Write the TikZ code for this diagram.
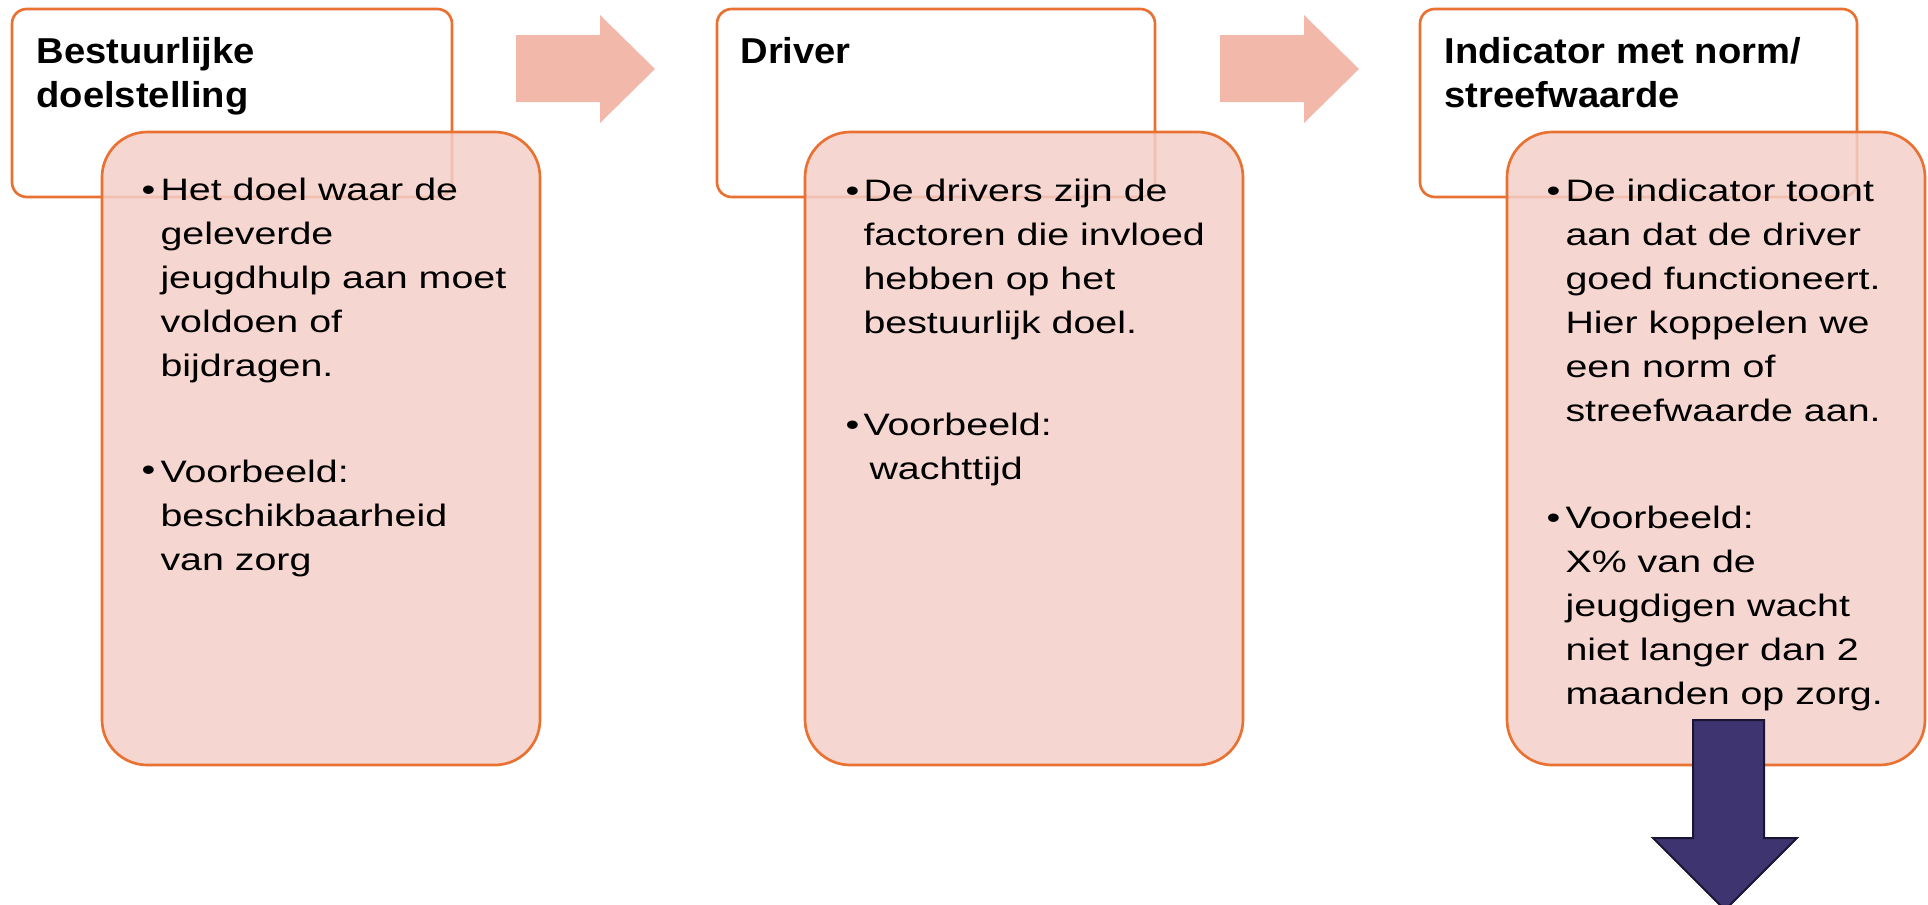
\documentclass[tikz,border=0pt]{standalone}
\usepackage{fontspec}
\setmainfont{Liberation Sans}
\newfontfamily\bodyfont{Liberation Sans}[FakeStretch=1.27]
\newfontfamily\headfont{Liberation Sans}[FakeStretch=1.06]

\definecolor{boxline}{HTML}{E97132}
\definecolor{boxfill}{RGB}{244,207,200}
\definecolor{arrowfill}{HTML}{F2B9AA}
\definecolor{downfill}{HTML}{3E3470}
\definecolor{downline}{HTML}{1B1533}

\tikzset{every picture/.style={line width=0.75pt}}
\tikzset{
  headbox/.style={draw=boxline, line width=2pt, fill=white, rounded corners=11pt},
  infobox/.style={draw=boxline, line width=2pt, fill=boxfill, fill opacity=0.85, rounded corners=34pt},
  headtext/.style={anchor=base west, inner sep=0pt, align=left, font=\headfont\bfseries\fontsize{27}{33}\selectfont},
  bodytext/.style={anchor=base west, inner sep=0pt, align=left, font=\bodyfont\fontsize{23.25}{33}\selectfont},
}

\begin{document}
\begin{tikzpicture}[x=0.75pt,y=0.75pt,yscale=-1,xscale=1]
\useasboundingbox (0,0) rectangle (1928,904);

%Shape: Rounded Rect [head 1]
\draw [headbox] (12,9) rectangle (452,197);
%Shape: Rounded Rect [info 1]
\draw [infobox] (102,132) rectangle (540,765);
%Shape: Right Arrow [1]
\fill [arrowfill] (516,35) -- (600,35) -- (600,15) -- (655,69) -- (600,123) -- (600,102) -- (516,102) -- cycle ;

%Shape: Rounded Rect [head 2]
\draw [headbox] (717,9) rectangle (1155,197);
%Shape: Rounded Rect [info 2]
\draw [infobox] (805,132) rectangle (1243,765);
%Shape: Right Arrow [2]
\fill [arrowfill] (1220,35) -- (1304,35) -- (1304,15) -- (1359,69) -- (1304,123) -- (1304,102) -- (1220,102) -- cycle ;

%Shape: Rounded Rect [head 3]
\draw [headbox] (1420,9) rectangle (1857,197);
%Shape: Rounded Rect [info 3]
\draw [infobox] (1507,132) rectangle (1925,765);
%Shape: Down Arrow
\draw [draw=downline, line width=1.5pt, fill=downfill] (1693,720) -- (1764,720) -- (1764,838) -- (1797,838) -- (1725,910) -- (1653,838) -- (1693,838) -- cycle ;

% Text Node (anchored at the baseline of the last line)
\draw (36,107) node [headtext] (head1) {Bestuurlijke\\doelstelling};
% Text Node
\draw (740,63) node [headtext] (head2) {Driver};
% Text Node
\draw (1444,107) node [headtext] (head3) {Indicator met norm/\\streefwaarde};

% Text Node
\draw (141,200) node [bodytext] (dot11) {•};
% Text Node
\draw (160,376) node [bodytext] (txt11) {Het doel waar de\\geleverde\\jeugdhulp aan moet\\voldoen of\\bijdragen.};
% Text Node
\draw (141,480) node [bodytext] (dot12) {•};
% Text Node
\draw (160,570) node [bodytext] (txt12) {Voorbeeld:\\beschikbaarheid\\van zorg};

% Text Node
\draw (845,201) node [bodytext] (dot21) {•};
% Text Node
\draw (863,333) node [bodytext] (txt21) {De drivers zijn de\\factoren die invloed\\hebben op het\\bestuurlijk doel.};
% Text Node
\draw (845,435) node [bodytext] (dot22) {•};
% Text Node
\draw (863,479) node [bodytext] (txt22) {Voorbeeld:\\\hspace*{4.5pt}wachttijd};

% Text Node
\draw (1546,201) node [bodytext] (dot31) {•};
% Text Node
\draw (1565,421) node [bodytext] (txt31) {De indicator toont\\aan dat de driver\\goed functioneert.\\Hier koppelen we\\een norm of\\streefwaarde aan.};
% Text Node
\draw (1546,528) node [bodytext] (dot32) {•};
% Text Node
\draw (1565,704) node [bodytext] (txt32) {Voorbeeld:\\X\% van de\\jeugdigen wacht\\niet langer dan 2\\maanden op zorg.};

\end{tikzpicture}
\end{document}
